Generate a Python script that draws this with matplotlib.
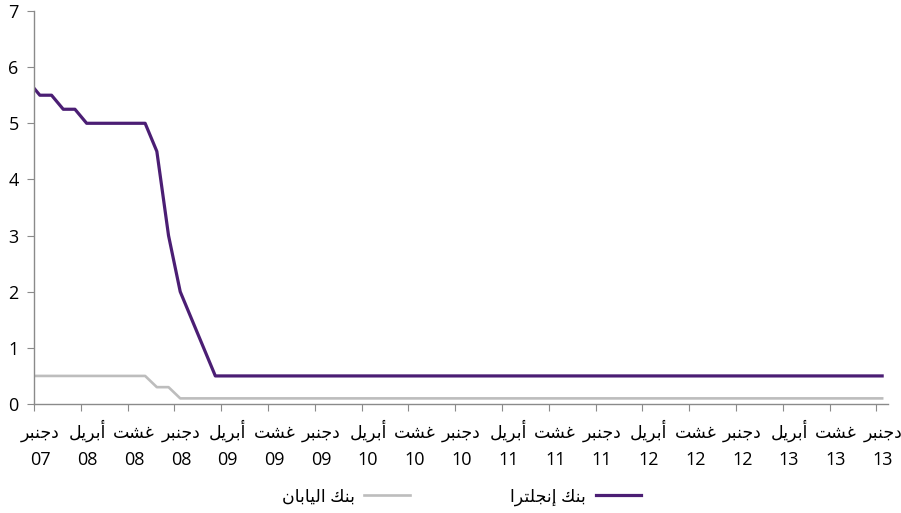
import numpy as np
import matplotlib
matplotlib.use("Agg")
import matplotlib.pyplot as plt
from matplotlib.lines import Line2D
import matplotlib.transforms as mtransforms

# ---------------- data (monthly, Nov 2007 .. Dec 2013) ----------------
boe = [5.75, 5.5, 5.5, 5.25, 5.25, 5.0, 5.0, 5.0, 5.0, 5.0, 5.0, 4.5, 3.0, 2.0, 1.5, 1.0, 0.5,
       0.5, 0.5, 0.5, 0.5, 0.5, 0.5, 0.5, 0.5, 0.5, 0.5, 0.5, 0.5, 0.5, 0.5, 0.5, 0.5, 0.5, 0.5,
       0.5, 0.5, 0.5, 0.5, 0.5, 0.5, 0.5, 0.5, 0.5, 0.5, 0.5, 0.5, 0.5, 0.5, 0.5, 0.5, 0.5, 0.5,
       0.5, 0.5, 0.5, 0.5, 0.5, 0.5, 0.5, 0.5, 0.5, 0.5, 0.5, 0.5, 0.5, 0.5, 0.5, 0.5, 0.5, 0.5,
       0.5, 0.5, 0.5]
boj = [0.5, 0.5, 0.5, 0.5, 0.5, 0.5, 0.5, 0.5, 0.5, 0.5, 0.5, 0.3, 0.3, 0.1,
       0.1, 0.1, 0.1, 0.1, 0.1, 0.1, 0.1, 0.1, 0.1, 0.1, 0.1, 0.1, 0.1, 0.1, 0.1, 0.1,
       0.1, 0.1, 0.1, 0.1, 0.1, 0.1, 0.1, 0.1, 0.1, 0.1, 0.1, 0.1, 0.1, 0.1, 0.1, 0.1,
       0.1, 0.1, 0.1, 0.1, 0.1, 0.1, 0.1, 0.1, 0.1, 0.1, 0.1, 0.1, 0.1, 0.1, 0.1, 0.1,
       0.1, 0.1, 0.1, 0.1, 0.1, 0.1, 0.1, 0.1, 0.1, 0.1, 0.1, 0.1]
tick_months = ["دجنبر", "أبريل", "غشت"] * 6 + ["دجنبر"]
tick_years = ["07", "08", "08", "08", "09", "09", "09", "10", "10", "10",
              "11", "11", "11", "12", "12", "12", "13", "13", "13"]
series_names = ["بنك إنجلترا", "بنك اليابان"]
yticks = [0, 1, 2, 3, 4, 5, 6, 7]

# ---------------- minimal Arabic shaping (presentation forms + RTL) ----------------
FORMS = {  # isolated, final, initial, medial (None for right-joining letters)
    "ا": ("\uFE8D", "\uFE8E", None, None),
    "أ": ("\uFE83", "\uFE84", None, None),
    "إ": ("\uFE87", "\uFE88", None, None),
    "د": ("\uFEA9", "\uFEAA", None, None),
    "ر": ("\uFEAD", "\uFEAE", None, None),
    "ب": ("\uFE8F", "\uFE90", "\uFE91", "\uFE92"),
    "ت": ("\uFE95", "\uFE96", "\uFE97", "\uFE98"),
    "ج": ("\uFE9D", "\uFE9E", "\uFE9F", "\uFEA0"),
    "ش": ("\uFEB5", "\uFEB6", "\uFEB7", "\uFEB8"),
    "غ": ("\uFECD", "\uFECE", "\uFECF", "\uFED0"),
    "ك": ("\uFED9", "\uFEDA", "\uFEDB", "\uFEDC"),
    "ل": ("\uFEDD", "\uFEDE", "\uFEDF", "\uFEE0"),
    "ن": ("\uFEE5", "\uFEE6", "\uFEE7", "\uFEE8"),
    "ي": ("\uFEF1", "\uFEF2", "\uFEF3", "\uFEF4"),
}


def shape_word(w):
    out = []
    for i, c in enumerate(w):
        if c not in FORMS:
            out.append(c)
            continue
        prev = w[i - 1] if i > 0 else None
        nxt = w[i + 1] if i + 1 < len(w) else None
        jp = prev in FORMS and FORMS[prev][2] is not None
        jn = nxt in FORMS and FORMS[c][2] is not None
        iso, fin, ini, med = FORMS[c]
        if jp and jn:
            out.append(med)
        elif jp:
            out.append(fin)
        elif jn:
            out.append(ini)
        else:
            out.append(iso)
    return "".join(reversed(out))


def ar(s):
    return " ".join(shape_word(w) for w in reversed(s.split(" ")))


# ---------------- plot ----------------
FAM = ["Open Sans", "DejaVu Sans"]
plt.rcParams["font.family"] = FAM

fig = plt.figure(figsize=(9.01, 5.13), dpi=100)
ax = fig.add_axes([34 / 901, 1 - 404 / 513, (888 - 34) / 901, (404 - 11) / 513])

x = np.arange(len(boe)) - 0.5  # category centres, first point = Nov 2007
purple = "#4B1E74"
gray = "#BDBDBD"
ax.plot(x, boj, color=gray, lw=1.9, solid_joinstyle="round")
ax.plot(x, boe, color=purple, lw=2.3, solid_joinstyle="round")

ax.set_xlim(0, 73)
ax.set_ylim(0, 7)
ax.set_yticks(yticks)
ax.set_yticklabels([str(v) for v in yticks], fontsize=13)

major = np.arange(len(tick_years)) * 4
ax.set_xticks(major)
ax.set_xticklabels([])
ax.tick_params(axis="x", which="major", length=5, color="#8a8a8a", direction="out")
ax.tick_params(axis="y", length=5, color="#8a8a8a", direction="out", pad=6)

trans = mtransforms.blended_transform_factory(ax.transData, ax.transAxes)
h_ax = 393.0
for pos, m, y in zip(major + 0.55, tick_months, tick_years):
    ax.text(pos, -(438 - 404) / h_ax, ar(m), transform=trans, ha="center", va="baseline",
            fontsize=12.5, clip_on=False)
    ax.text(pos, -(465 - 404) / h_ax, y, transform=trans, ha="center", va="baseline",
            fontsize=13, clip_on=False)

for s in ["top", "right"]:
    ax.spines[s].set_visible(False)
for s in ["left", "bottom"]:
    ax.spines[s].set_color("#8a8a8a")
    ax.spines[s].set_linewidth(1.0)

handles = [Line2D([], [], color=gray, lw=1.9), Line2D([], [], color=purple, lw=2.3)]
labels = [ar(series_names[1]), ar(series_names[0])]
fig.legend(handles, labels, loc="center", bbox_to_anchor=(0.512, 0.031), ncol=2,
           frameon=False, markerfirst=False, fontsize=12.5, handlelength=2.6,
           handletextpad=0.55, columnspacing=5.8)

fig.savefig("out.png", dpi=100)
